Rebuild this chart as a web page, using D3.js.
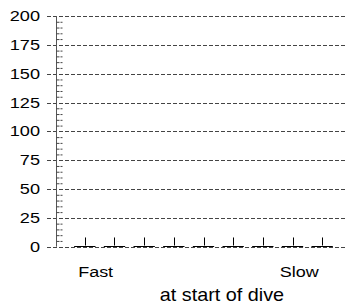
<!DOCTYPE html>
<html>
<head>
<meta charset="utf-8">
<script src="https://cdn.jsdelivr.net/npm/d3@7"></script>
<style>
  html, body { margin: 0; padding: 0; background: #fff; }
  text { font-family: "Liberation Sans", Arial, sans-serif; fill: #000; }
</style>
</head>
<body>
<svg id="chart" width="347" height="306"></svg>
<script>
// ---- data ----
const categories = ["1", "2", "3", "4", "5", "6", "7", "8", "9"];
const values = [1, 1, 1, 1, 1, 1, 1, 1, 1];
const errors = [7, 7, 7, 7, 7, 7, 7, 7, 7];
const yTicks = [0, 25, 50, 75, 100, 125, 150, 175, 200];
const endLabels = ["Fast", "Slow"];
const xTitle = "at start of dive";

// ---- layout ----
const svg = d3.select("#chart");
const axisX = 56;
const x = d3.scaleBand().domain(categories).range([70, 337]).paddingInner(0.28).paddingOuter(0.14);
const y = d3.scaleLinear().domain([0, 200]).range([246.7, 16]);

// gridlines (also act as major ticks)
svg.append("g").selectAll("line").data(yTicks).join("line")
  .attr("x1", 47).attr("x2", 346)
  .attr("y1", d => Math.round(y(d)) + 0.5).attr("y2", d => Math.round(y(d)) + 0.5)
  .attr("stroke", "#444").attr("stroke-width", 1).attr("stroke-dasharray", "4,2");

// y axis with minor ticks
const yAxis = d3.axisRight(y).tickValues(d3.range(0, 201, 5).filter(v => v % 25 !== 0))
  .tickSize(6).tickFormat("");
const gy = svg.append("g").attr("transform", `translate(${axisX + 0.5},0)`).call(yAxis);
gy.select(".domain").attr("stroke", "#555").attr("d", `M0,${y(200)}V${y(0)}`);
gy.selectAll(".tick line").attr("stroke", "#444").attr("stroke-dasharray", "3,1");

// tick labels
svg.append("g").selectAll("text").data(yTicks).join("text")
  .attr("transform", d => `translate(40,${y(d) + 5}) scale(1.25,1)`)
  .attr("text-anchor", "end")
  .style("font-size", "14.5px")
  .text(d => d);

// bars
const bars = svg.append("g");
bars.selectAll("line.bar").data(categories).join("line").attr("class", "bar")
  .attr("x1", d => x(d)).attr("x2", d => x(d) + x.bandwidth())
  .attr("y1", (d, i) => Math.round(y(values[i])) + 0.5).attr("y2", (d, i) => Math.round(y(values[i])) + 0.5)
  .attr("stroke", "#000").attr("stroke-width", 1);
bars.selectAll("line.err").data(categories).join("line").attr("class", "err")
  .attr("x1", d => Math.round(x(d) + x.bandwidth() / 2) + 0.5)
  .attr("x2", d => Math.round(x(d) + x.bandwidth() / 2) + 0.5)
  .attr("y1", (d, i) => y(values[i])).attr("y2", (d, i) => y(values[i] + errors[i]))
  .attr("stroke", "#000").attr("stroke-width", 1);

// end labels
const first = categories[0], last = categories[categories.length - 1];
svg.append("text")
  .attr("transform", `translate(${x(first) + 4},277) scale(1.2,1)`)
  .style("font-size", "15px").text(endLabels[0]);
svg.append("text")
  .attr("transform", `translate(${x(last) + x.bandwidth() - 53},277) scale(1.2,1)`)
  .style("font-size", "15px").text(endLabels[1]);

// x title
svg.append("text")
  .attr("transform", `translate(222,301) scale(1.1,1)`)
  .attr("text-anchor", "middle")
  .style("font-size", "18px").text(xTitle);
</script>
</body>
</html>
